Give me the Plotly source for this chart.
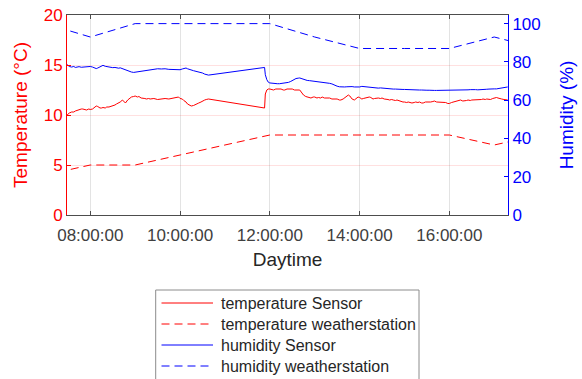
import plotly.graph_objects as go

DAY = "2021-01-01 "

# Sensor readings (time, temperature in °C, humidity in %)
sensor_times = [
    "07:29", "07:32", "07:35", "07:38", "07:40", "07:43", "07:45", "07:48", "07:50", "07:53", "07:55", "07:58",
    "08:00", "08:03", "08:05", "08:08", "08:10", "08:13", "08:15", "08:17", "08:20", "08:22", "08:25", "08:28",
    "08:30", "08:33", "08:35", "08:38", "08:40", "08:43", "08:45", "08:47", "08:50", "08:53", "08:55", "08:58",
    "09:00", "09:03", "09:05", "09:08", "09:10", "09:13", "09:15", "09:18", "09:20", "09:25", "09:30", "09:35",
    "09:40", "09:45", "09:50", "09:55", "09:58", "10:00", "10:03", "10:05", "10:08", "10:10", "10:13", "10:15",
    "10:18", "10:20", "10:23", "10:25", "10:28", "10:30", "10:33", "10:35", "10:38",
    "11:53", "11:54", "11:56", "11:58",
    "12:00", "12:03", "12:05", "12:08", "12:10", "12:13", "12:15", "12:18", "12:20", "12:23", "12:25", "12:28",
    "12:30", "12:33", "12:35", "12:38", "12:40", "12:43", "12:45", "12:48", "12:50", "12:53", "12:55", "12:58",
    "13:00", "13:03", "13:05", "13:08", "13:10", "13:13", "13:15", "13:18", "13:20", "13:23", "13:25", "13:28",
    "13:30", "13:33", "13:35", "13:38", "13:40", "13:43", "13:45", "13:47", "13:50", "13:53", "13:55", "13:58",
    "14:00", "14:03", "14:05", "14:08", "14:10", "14:13", "14:15", "14:18", "14:20", "14:23", "14:25", "14:28",
    "14:30", "14:33", "14:35", "14:38", "14:40", "14:43", "14:45", "14:48", "14:50", "14:53", "14:55", "14:58",
    "15:00", "15:03", "15:05", "15:08", "15:10", "15:13", "15:15", "15:18", "15:20", "15:23", "15:25", "15:28",
    "15:30", "15:33", "15:35", "15:38", "15:40", "15:43", "15:45", "15:48", "15:50", "15:53", "15:55", "15:58",
    "16:00", "16:03", "16:05", "16:08", "16:10", "16:13", "16:15", "16:18", "16:20", "16:23", "16:25", "16:28",
    "16:30", "16:33", "16:35", "16:38", "16:40", "16:43", "16:45", "16:48", "16:50", "16:53", "16:55", "16:58",
    "17:00", "17:03", "17:05", "17:08", "17:10", "17:13", "17:15", "17:18",
]
temp_sensor = [
    10.0, 10.2, 10.3, 10.3, 10.4, 10.5, 10.5, 10.6, 10.6, 10.5, 10.5, 10.6,
    10.55, 10.6, 10.7, 10.9, 10.85, 10.7, 10.7, 10.75, 10.7, 10.8, 10.8, 10.85,
    10.9, 11.0, 11.1, 11.2, 11.3, 11.5, 11.35, 11.2, 11.5, 11.7, 11.8, 11.85,
    11.9, 11.8, 11.85, 11.7, 11.7, 11.65, 11.6, 11.65, 11.6, 11.65, 11.55, 11.6,
    11.65, 11.6, 11.7, 11.75, 11.8, 11.65, 11.6, 11.45, 11.3, 11.1, 11.0, 10.9,
    10.95, 11.0, 11.1, 11.2, 11.3, 11.4, 11.5, 11.55, 11.6,
    10.7, 12.1, 12.5, 12.6,
    12.6, 12.5, 12.5, 12.6, 12.6, 12.55, 12.6, 12.5, 12.5, 12.6, 12.6, 12.55,
    12.6, 12.5, 12.5, 12.55, 12.5, 12.2, 12.0, 11.85, 11.8, 11.75, 11.7, 11.8,
    11.8, 11.7, 11.75, 11.7, 11.8, 11.7, 11.7, 11.65, 11.7, 11.6, 11.6, 11.55,
    11.6, 11.5, 11.5, 11.6, 11.7, 11.9, 12.0, 11.9, 11.6, 11.5, 11.6, 11.8,
    11.75, 11.6, 11.65, 11.7, 11.7, 11.8, 11.75, 11.6, 11.65, 11.7, 11.7, 11.65,
    11.7, 11.6, 11.6, 11.55, 11.5, 11.55, 11.5, 11.45, 11.5, 11.4, 11.35, 11.3,
    11.3, 11.25, 11.3, 11.2, 11.2, 11.25, 11.3, 11.25, 11.3, 11.2, 11.2, 11.3,
    11.3, 11.25, 11.3, 11.35, 11.4, 11.3, 11.3, 11.25, 11.3, 11.3, 11.25, 11.15,
    11.15, 11.25, 11.3, 11.35, 11.4, 11.45, 11.5, 11.4, 11.4, 11.45, 11.5, 11.45,
    11.5, 11.5, 11.55, 11.5, 11.5, 11.55, 11.6, 11.55, 11.6, 11.6, 11.55, 11.65,
    11.7, 11.75, 11.7, 11.6, 11.6, 11.55, 11.5, 11.5,
]
hum_sensor = [
    78.6, 77.6, 77.3, 77.6, 77.1, 77.4, 77.5, 77.2, 77.3, 77.6, 77.5, 77.8,
    77.6, 77.3, 77.0, 76.5, 76.8, 77.6, 78.0, 78.2, 77.7, 77.5, 77.3, 77.2,
    77.0, 77.1, 76.8, 76.7, 76.9, 76.4, 76.0, 75.9, 75.4, 75.0, 74.7, 74.5,
    74.6, 74.9, 75.1, 75.4, 75.5, 75.6, 75.7, 75.8, 75.9, 76.2, 76.4, 76.3,
    76.4, 76.1, 76.0, 75.8, 75.9, 75.9, 76.3, 76.6, 76.8, 76.4, 75.9, 75.6,
    75.4, 75.2, 75.0, 74.8, 74.6, 74.2, 73.6, 73.3, 73.1,
    77.1, 73.3, 70.7, 69.4,
    69.0, 68.8, 68.7, 68.6, 68.6, 68.6, 68.7, 68.8, 68.8, 69.0, 69.3, 69.8,
    70.3, 70.9, 71.3, 71.5, 71.6, 71.2, 70.9, 70.6, 70.3, 70.2, 70.1, 70.0,
    69.9, 69.8, 69.8, 69.6, 69.6, 69.4, 69.3, 69.0, 68.8, 68.5, 68.1, 67.7,
    67.3, 67.0, 66.9, 67.0, 66.9, 67.0, 67.1, 66.9, 67.1, 66.9, 66.8, 66.9,
    66.9, 67.2, 67.1, 66.8, 66.7, 66.6, 66.6, 66.5, 66.4, 66.4, 66.3, 66.4,
    66.3, 66.1, 66.1, 66.0, 65.9, 65.9, 65.8, 65.8, 65.7, 65.7, 65.6, 65.6,
    65.6, 65.5, 65.5, 65.4, 65.4, 65.4, 65.3, 65.3, 65.3, 65.3, 65.2, 65.2,
    65.2, 65.2, 65.1, 65.1, 65.1, 65.1, 65.1, 65.1, 65.1, 65.1, 65.1, 65.2,
    65.2, 65.3, 65.3, 65.3, 65.3, 65.4, 65.4, 65.4, 65.4, 65.4, 65.4, 65.5,
    65.4, 65.5, 65.5, 65.4, 65.4, 65.5, 65.5, 65.6, 65.7, 65.8, 65.9, 65.9,
    65.9, 65.9, 66.0, 66.1, 66.2, 66.4, 66.6, 66.9,
]

# Weather station hourly values
ws_times = ["07:00", "08:00", "09:00", "10:00", "11:00", "12:00", "13:00",
            "14:00", "15:00", "16:00", "17:00", "18:00"]
temp_ws = [4, 5, 5, 6, 7, 8, 8, 8, 8, 8, 7, 8]
hum_ws = [100, 93, 100, 100, 100, 100, 93, 87, 87, 87, 93, 87]

x_ticks = ["08:00", "10:00", "12:00", "14:00", "16:00"]
x_range = ["07:28:53", "17:18:25"]

series_names = ["temperature Sensor", "temperature weatherstation",
                "humidity Sensor", "humidity weatherstation"]

RED = "#ff0000"
BLUE = "#0000ff"
FONT = "Liberation Sans, Arial, sans-serif"
DASH = "8px,5px"

W, H = 582, 379
ML, MR, MT, MB = 67, 74, 15, 164
PW, PH = W - ML - MR, H - MT - MB

ts = [DAY + t for t in sensor_times]
tw = [DAY + t for t in ws_times]

series = [
    (ts, temp_sensor, RED, "solid", "y"),
    (tw, temp_ws, RED, DASH, "y"),
    (ts, hum_sensor, BLUE, "solid", "y2"),
    (tw, hum_ws, BLUE, DASH, "y2"),
]

fig = go.Figure()
for name, (xs, ys, col, dash, ax) in zip(series_names, series):
    fig.add_trace(go.Scatter(x=xs, y=ys, mode="lines", name=name, showlegend=False,
                             line=dict(color=col, width=1, dash=dash), yaxis=ax))


def px2paper(px, py):
    return (px - ML) / PW, (MT + PH - py) / PH


# legend box (drawn below the axes, partly past the bottom edge like the reference)
bx0, by0 = px2paper(155.7, 290)
bx1, by1 = px2paper(419, 392)
shapes = [dict(type="rect", xref="paper", yref="paper", x0=bx0, x1=bx1, y0=by1, y1=by0,
               line=dict(color="#8c8c8c", width=1), fillcolor="white", layer="above")]
annotations = []
row_y = [303, 324, 345, 366]
for name, (xs, ys, col, dash, ax), ry in zip(series_names, series, row_y):
    lx0, ly = px2paper(161.5, ry)
    lx1, _ = px2paper(213, ry)
    shapes.append(dict(type="line", xref="paper", yref="paper", x0=lx0, x1=lx1, y0=ly, y1=ly,
                       line=dict(color=col, width=1, dash=dash), layer="above"))
    tx, _ = px2paper(219, ry)
    annotations.append(dict(text=name, xref="paper", yref="paper", x=tx, y=ly,
                            xanchor="left", yanchor="middle", showarrow=False,
                            font=dict(size=16, color="#262626", family=FONT)))

fig.update_layout(
    width=W, height=H,
    margin=dict(l=ML, r=MR, t=MT, b=MB, autoexpand=False),
    paper_bgcolor="white", plot_bgcolor="white",
    font=dict(family=FONT, color="#404040"),
    showlegend=False,
    shapes=shapes, annotations=annotations,
    xaxis=dict(
        type="date", range=[DAY + x_range[0], DAY + x_range[1]],
        tickvals=[DAY + t for t in x_ticks], tickformat="%H:%M:%S",
        showline=True, linecolor="#4d4d4d", linewidth=1, mirror="ticks",
        ticks="inside", ticklen=4, tickcolor="#4d4d4d",
        showgrid=True, gridcolor="#e3e3e3", gridwidth=1, zeroline=False,
        tickfont=dict(size=17, color="#404040"), ticklabelstandoff=5,
        title=dict(text="Daytime", font=dict(size=19, color="#262626"), standoff=8),
    ),
    yaxis=dict(
        range=[0, 20], tickvals=[0, 5, 10, 15, 20],
        showline=True, linecolor=RED, linewidth=1,
        ticks="inside", ticklen=4, tickcolor=RED,
        showgrid=True, gridcolor="rgba(255,0,0,0.12)", zeroline=False,
        tickfont=dict(size=17, color=RED),
        title=dict(text="Temperature (°C)", font=dict(size=19, color=RED), standoff=11),
    ),
    yaxis2=dict(
        range=[0, 104.5], tickvals=[0, 20, 40, 60, 80, 100],
        overlaying="y", side="right", anchor="x",
        showline=True, linecolor=BLUE, linewidth=1,
        ticks="inside", ticklen=4, tickcolor=BLUE,
        showgrid=False, zeroline=False,
        tickfont=dict(size=17, color=BLUE),
        title=dict(text="Humidity (%)", font=dict(size=19, color=BLUE), standoff=19),
    ),
)

fig.write_html("out.html", config={"displayModeBar": False},
               post_script="document.body.style.margin='0';document.body.style.overflow='hidden';")
